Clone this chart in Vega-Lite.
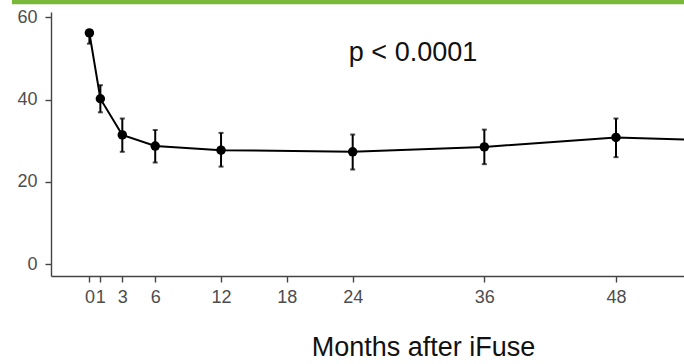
{
  "$schema": "https://vega.github.io/schema/vega-lite/v6.json",
  "width": 633,
  "height": 264,
  "autosize": {"type": "none"},
  "padding": {"left": 51, "top": 12, "right": 0, "bottom": 88},
  "background": "white",
  "config": {
    "view": {"stroke": null},
    "font": "Liberation Sans"
  },
  "datasets": {
    "series": [
      {"month": 0, "mean": 56.2, "lo": 53.6, "hi": 56.9},
      {"month": 1, "mean": 40.2, "lo": 36.9, "hi": 43.5},
      {"month": 3, "mean": 31.4, "lo": 27.3, "hi": 35.4},
      {"month": 6, "mean": 28.7, "lo": 24.7, "hi": 32.6},
      {"month": 12, "mean": 27.7, "lo": 23.7, "hi": 31.9},
      {"month": 24, "mean": 27.3, "lo": 23.0, "hi": 31.5},
      {"month": 36, "mean": 28.5, "lo": 24.3, "hi": 32.7},
      {"month": 48, "mean": 30.8, "lo": 26.0, "hi": 35.4},
      {"month": 60, "mean": 29.8, "lo": 25.0, "hi": 34.6}
    ],
    "note": [{"label": "p < 0.0001", "month": 29.5, "value": 49.4}]
  },
  "layer": [
    {
      "data": {"name": "series"},
      "mark": {"type": "line", "color": "black", "strokeWidth": 2, "clip": true},
      "encoding": {
        "x": {
          "field": "month", "type": "quantitative",
          "scale": {"domain": [-3.5, 54.2], "nice": false, "zero": false},
          "axis": {
            "values": [0, 1, 3, 6, 12, 18, 24, 36, 48],
            "grid": false,
            "labelOverlap": false,
            "labelFlush": false,
            "labelPadding": 6,
            "labelFont": "Liberation Sans",
            "labelFontSize": 18,
            "labelColor": "#4d4d4d",
            "domainColor": "#444444",
            "domainWidth": 1.4,
            "tickColor": "#444444",
            "tickWidth": 1.4,
            "tickSize": 6,
            "title": "Months after iFuse",
            "titleFont": "Liberation Sans",
            "titleFontSize": 27,
            "titleFontWeight": "normal",
            "titleColor": "#111111",
            "titleX": 372,
            "titleY": 79,
            "titleAlign": "center",
            "titleBaseline": "alphabetic"
          }
        },
        "y": {
          "field": "mean", "type": "quantitative",
          "scale": {"domain": [-2.9, 61.3], "nice": false, "zero": false},
          "axis": {
            "values": [0, 20, 40, 60],
            "grid": false,
            "labelFlush": false,
            "title": null,
            "labelPadding": 8,
            "labelFont": "Liberation Sans",
            "labelFontSize": 18,
            "labelColor": "#4d4d4d",
            "domainColor": "#444444",
            "domainWidth": 1.4,
            "tickColor": "#444444",
            "tickWidth": 1.4,
            "tickSize": 6
          }
        }
      }
    },
    {
      "data": {"values": [{"x1": -7.06, "x2": 100, "y1": 63.2, "y2": 75}]},
      "mark": {"type": "rect", "color": "#7ab83a"},
      "encoding": {
        "x": {"field": "x1", "type": "quantitative"},
        "x2": {"field": "x2"},
        "y": {"field": "y1", "type": "quantitative"},
        "y2": {"field": "y2"}
      }
    },
    {
      "data": {"name": "series"},
      "transform": [{"filter": "datum.month <= 48"}],
      "mark": {"type": "errorbar", "color": "black", "ticks": {"size": 5, "thickness": 2, "color": "black"}, "rule": {"strokeWidth": 2}},
      "encoding": {
        "x": {"field": "month", "type": "quantitative"},
        "y": {"field": "lo", "type": "quantitative"},
        "y2": {"field": "hi"}
      }
    },
    {
      "data": {"name": "series"},
      "transform": [{"filter": "datum.month <= 48"}],
      "mark": {"type": "point", "filled": true, "color": "black", "size": 90, "opacity": 1},
      "encoding": {
        "x": {"field": "month", "type": "quantitative"},
        "y": {"field": "mean", "type": "quantitative"}
      }
    },
    {
      "data": {"name": "note"},
      "mark": {"type": "text", "fontSize": 27, "font": "Liberation Sans", "color": "#111111", "align": "center", "baseline": "alphabetic"},
      "encoding": {
        "x": {"field": "month", "type": "quantitative"},
        "y": {"field": "value", "type": "quantitative"},
        "text": {"field": "label"}
      }
    }
  ]
}
